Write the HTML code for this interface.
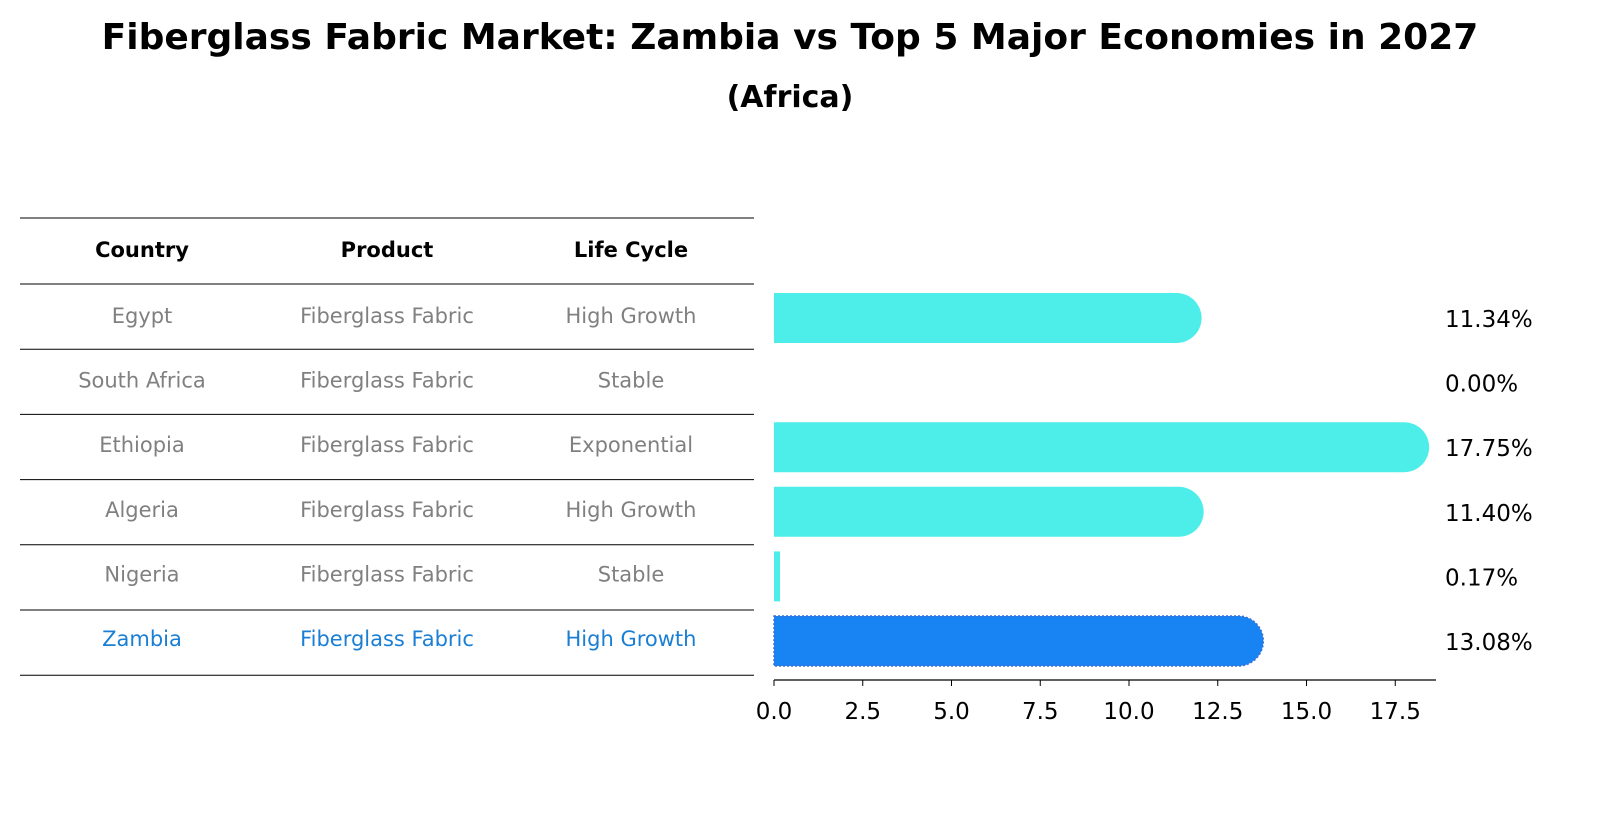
<!DOCTYPE html>
<html><head><meta charset="utf-8"><style>
html,body{margin:0;padding:0;background:#fff;width:1604px;height:823px;overflow:hidden;}
svg{display:block;}
svg text{font-family:"DejaVu Sans","Liberation Sans",sans-serif;}
</style></head><body>
<svg id="c" width="1604" height="823" viewBox="0 0 1604 823" xmlns="http://www.w3.org/2000/svg">
<text x="790" y="49" text-anchor="middle" font-size="36" font-weight="bold">Fiberglass Fabric Market: Zambia vs Top 5 Major Economies in 2027</text>
<text x="790" y="107" text-anchor="middle" font-size="30" font-weight="bold">(Africa)</text>
<g id="table"></g>
<g id="bars"></g>
</svg>
<script>
const countries=["Egypt","South Africa","Ethiopia","Algeria","Nigeria","Zambia"];
const products=["Fiberglass Fabric","Fiberglass Fabric","Fiberglass Fabric","Fiberglass Fabric","Fiberglass Fabric","Fiberglass Fabric"];
const lifeCycles=["High Growth","Stable","Exponential","High Growth","Stable","High Growth"];
const values=[11.34,0.00,17.75,11.40,0.17,13.08];
const ticks=[0,2.5,5,7.5,10,12.5,15,17.5];
const NS="http://www.w3.org/2000/svg";
const x=v=>774+v*35.5;
const rowY=i=>316+i*64.6;
function mk(tag,attrs,parent){const e=document.createElementNS(NS,tag);for(const k in attrs)e.setAttribute(k,attrs[k]);parent.appendChild(e);return e;}
const tbl=document.getElementById('table'),bars=document.getElementById('bars');
const cols=[142,387,631];
["Country","Product","Life Cycle"].forEach((h,j)=>{const t=mk('text',{x:cols[j],y:257,'text-anchor':'middle','font-size':21,'font-weight':'bold'},tbl);t.textContent=h;

});
for(let i=0;i<=7;i++){const yy=i==0?218:284+(i-1)*65.2;const l=mk('line',{x1:20,x2:754,y1:yy,y2:yy,stroke:'#000','stroke-width':1},tbl);

}
countries.forEach((c,i)=>{const col=i==5?'#1a7fd4':'#808080';
[c,products[i],lifeCycles[i]].forEach((s,j)=>{const t=mk('text',{x:cols[j],y:rowY(i)+7,'text-anchor':'middle','font-size':21,fill:col},tbl);t.textContent=s;

});
const v=values[i];const cy=rowY(i)+2;const h=50;const z=i==5;
const fill=z?'#1884f4':'#4deeea';
if(v>0.5){const p=mk('path',{d:`M${x(0)},${cy-h/2} H${x(v)} A${h/2},${h/2} 0 0 1 ${x(v)},${cy+h/2} H${x(0)} Z`,fill:fill},bars);
if(z){p.setAttribute('stroke','#3a6fd0');p.setAttribute('stroke-dasharray','2,2');p.setAttribute('stroke-width','1.5');}

}
else if(v>0){const r=mk('rect',{x:x(0),y:cy-h/2,width:Math.max(x(v)-x(0),6),height:h,fill:fill},bars);

}
const t=mk('text',{x:1445,y:cy+9,'font-size':23},bars);t.textContent=v.toFixed(2)+'%';

});
const ax=mk('line',{x1:774,x2:1436,y1:680,y2:680,stroke:'#000','stroke-width':1.2},bars);


ticks.forEach(tk=>{const l=mk('line',{x1:x(tk),x2:x(tk),y1:680,y2:686,stroke:'#000'},bars);


const t=mk('text',{x:x(tk),y:719,'text-anchor':'middle','font-size':23},bars);t.textContent=tk.toFixed(1);

});
</script>
</body></html>
